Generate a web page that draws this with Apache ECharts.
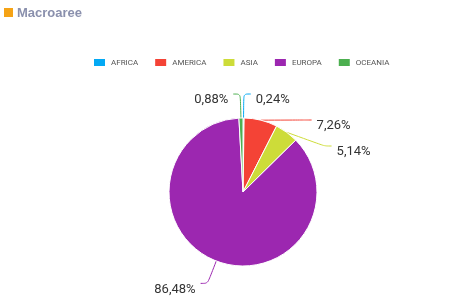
<!DOCTYPE html>
<html><head><meta charset="utf-8">
<script src="https://cdn.jsdelivr.net/npm/echarts@6/dist/echarts.min.js"></script>
<style>html,body{margin:0;padding:0;background:#fff}#c{width:474px;height:307px}</style>
</head><body><div id="c"></div>
<script>
const categories = ['AFRICA','AMERICA','ASIA','EUROPA','OCEANIA'];
const values = [0.24, 7.26, 5.14, 86.48, 0.88];
const colors = ['#03A9F4','#F44336','#CDDC39','#9C27B0','#4CAF50'];
const chart = echarts.init(document.getElementById('c'));
chart.setOption({
  animation: false,
  color: colors,
  title: {
    text: 'Macroaree', left: 12, top: 2,
    textStyle: {fontFamily: 'Liberation Sans', fontSize: 13, fontWeight: 'bold', color: '#8a90ad'}
  },
  graphic: [{type: 'rect', left: 4, top: 8, shape: {width: 9, height: 9}, style: {fill: '#F5A316'}}],
  legend: {
    top: 52, left: 87, itemWidth: 13, itemHeight: 9, itemGap: 15,
    icon: 'rect',
    textStyle: {fontFamily: 'Roboto', fontSize: 8, color: '#555'},
    data: categories
  },
  series: [{
    type: 'pie', center: [243, 192], radius: [0, 74], startAngle: 90, clockwise: true,
    itemStyle: {borderColor: '#fff', borderWidth: 1},
    label: {
      formatter: p => '{s| }\n{v|' + p.value.toFixed(2).replace('.', ',') + '%}',
      fontFamily: 'Roboto', fontSize: 13, color: '#333',
      rich: {
        s: {fontSize: 4, lineHeight: 12},
        v: {fontFamily: 'Roboto', fontSize: 13, color: '#333', lineHeight: 15}
      },
      minMargin: 4
    },
    labelLine: {length: 24, length2: 7, smooth: true},
    data: categories.map((c, i) => ({name: c, value: values[i]}))
  }]
});
</script></body></html>
